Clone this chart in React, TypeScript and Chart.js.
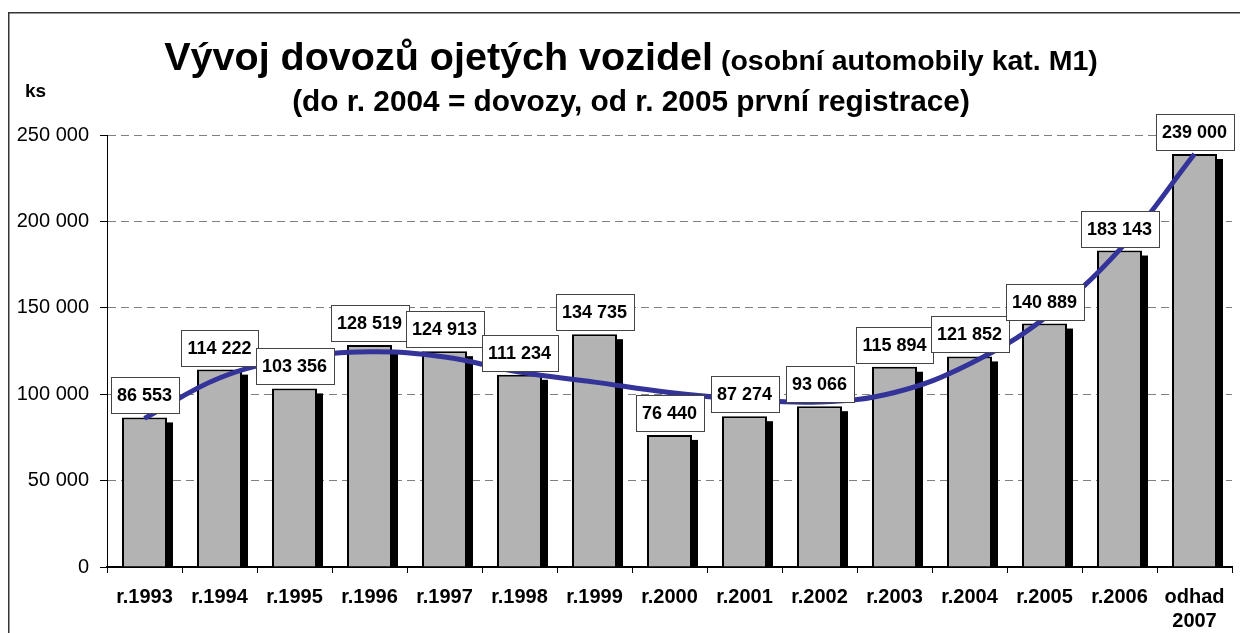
import React, { useEffect, useRef } from 'react';
import { Chart, registerables } from 'chart.js';

Chart.register(...registerables);

const categories: (string | string[])[] = [
  'r.1993', 'r.1994', 'r.1995', 'r.1996', 'r.1997', 'r.1998', 'r.1999', 'r.2000',
  'r.2001', 'r.2002', 'r.2003', 'r.2004', 'r.2005', 'r.2006', ['odhad', '2007'],
];
const imports = [86553, 114222, 103356, 128519, 124913, 111234, 134735, 76440, 87274, 93066, 115894, 121852, 140889, 183143, 239000];
const trend = [86000, 109400, 120500, 124500, 121500, 112800, 107000, 101000, 97000, 95500, 101000, 117500, 144000, 183500, 239000];
const yMin = 0;
const yMax = 250000;
const yStep = 50000;
const titleMain = 'Vývoj dovozů ojetých vozidel';
const titleSub = ' (osobní automobily kat. M1)';
const titleLine2 = '(do r. 2004 = dovozy, od r. 2005 první registrace)';
const unitLabel = 'ks';

const FONT = 'Liberation Sans, Arial, sans-serif';
const fmt = (v: number) => String(Math.round(v)).replace(/\B(?=(\d{3})+(?!\d))/g, ' ');

const decorPlugin = {
  id: 'decor',
  beforeDraw(chart: any) {
    const ctx = chart.ctx;
    ctx.save();
    ctx.fillStyle = '#fff';
    ctx.fillRect(0, 0, chart.width, chart.height);
    ctx.strokeStyle = '#333';
    ctx.lineWidth = 1.5;
    ctx.strokeRect(8.75, 12.75, chart.width + 20, chart.height + 20);
    // title
    ctx.fillStyle = '#000';
    ctx.textBaseline = 'alphabetic';
    ctx.textAlign = 'left';
    const cx = 631;
    ctx.font = `bold 39.5px ${FONT}`;
    const w1 = ctx.measureText(titleMain).width;
    ctx.font = `bold 28.5px ${FONT}`;
    const w2 = ctx.measureText(titleSub).width;
    const sx = cx - (w1 + w2) / 2;
    ctx.font = `bold 39.5px ${FONT}`;
    ctx.fillText(titleMain, sx, 70);
    ctx.font = `bold 28.5px ${FONT}`;
    ctx.fillText(titleSub, sx + w1, 70);
    ctx.font = `bold 29.8px ${FONT}`;
    ctx.textAlign = 'center';
    ctx.fillText(titleLine2, cx, 111);
    ctx.textAlign = 'left';
    ctx.font = `bold 19px ${FONT}`;
    ctx.fillText(unitLabel, 25, 97);
    ctx.restore();
  },
  beforeDatasetsDraw(chart: any) {
    const ctx = chart.ctx;
    const meta = chart.getDatasetMeta(1);
    ctx.save();
    ctx.fillStyle = '#000';
    meta.data.forEach((el: any) => {
      const { x, y, base, width } = el.getProps(['x', 'y', 'base', 'width'], true);
      ctx.fillRect(x - width / 2 + 6, y + 5, width, base - y - 5);
    });
    ctx.restore();
  },
  afterDatasetsDraw(chart: any) {
    const ctx = chart.ctx;
    const meta = chart.getDatasetMeta(1);
    ctx.save();
    ctx.font = `bold 18px ${FONT}`;
    ctx.textAlign = 'center';
    ctx.textBaseline = 'middle';
    meta.data.forEach((el: any, i: number) => {
      const { x, y } = el.getProps(['x', 'y'], true);
      const text = fmt(imports[i]);
      const tw = ctx.measureText(text).width;
      const bw = Math.round(tw + 13);
      const bh = 36;
      const bx = Math.round(x - bw / 2) + 0.5;
      const by = Math.round(y - 4 - bh) + 0.5;
      ctx.fillStyle = '#fff';
      ctx.fillRect(bx, by, bw, bh);
      ctx.strokeStyle = '#444';
      ctx.lineWidth = 1;
      ctx.strokeRect(bx, by, bw, bh);
      ctx.fillStyle = '#000';
      ctx.fillText(text, x, by + bh / 2 + 1);
    });
    ctx.restore();
  },
};

export default function App() {
  const ref = useRef<HTMLCanvasElement | null>(null);
  useEffect(() => {
    if (!ref.current) return;
    const chart = new Chart(ref.current, {
      type: 'bar',
      data: {
        labels: categories as any,
        datasets: [
          {
            type: 'line',
            label: 'trend',
            data: trend,
            borderColor: '#333399',
            borderWidth: 5,
            pointRadius: 0,
            tension: 0.4,
            fill: false,
            order: 0,
          } as any,
          {
            type: 'bar',
            label: 'dovozy',
            data: imports,
            backgroundColor: '#b3b3b3',
            borderColor: '#000',
            borderWidth: 2,
            barPercentage: 0.6,
            categoryPercentage: 1,
            order: 1,
          },
        ],
      },
      options: {
        responsive: false,
        animation: false,
        devicePixelRatio: 1,
        layout: { padding: { top: 135, right: 8, left: 0, bottom: 0 } },
        plugins: {
          legend: { display: false },
          tooltip: { enabled: false },
          title: { display: false },
        },
        scales: {
          x: {
            grid: { display: true, drawOnChartArea: false, drawTicks: true, tickLength: 6, tickColor: '#000', offset: true },
            border: { display: true, color: '#000', width: 2 },
            ticks: { font: { family: FONT, size: 20, weight: 'bold' }, color: '#000', padding: 12, maxRotation: 0, autoSkip: false },
            afterFit: (s: any) => { s.height = 66; s.paddingLeft = 0; s.paddingRight = 0; },
          },
          y: {
            min: yMin,
            max: yMax,
            ticks: { stepSize: yStep, callback: (v: any) => fmt(Number(v)), font: { family: FONT, size: 20 }, color: '#000', padding: 11 },
            grid: {
              color: (c: any) => (c.tick && c.tick.value === 0 ? 'rgba(0,0,0,0)' : '#808080'),
              lineWidth: 1,
              tickLength: 7,
              tickColor: '#000',
              tickBorderDash: [],
            },
            border: { display: true, color: '#000', width: 1, dash: [8, 5] },
            afterFit: (s: any) => { s.width = 107; s.paddingTop = 0; s.paddingBottom = 0; },
          },
        },
      },
      plugins: [decorPlugin],
    });
    return () => chart.destroy();
  }, []);
  return (
    <div style={{ position: 'fixed', left: 0, top: 0 }}>
      <canvas ref={ref} width={1240} height={633} style={{ display: 'block', width: 1240, height: 633 }} />
    </div>
  );
}
